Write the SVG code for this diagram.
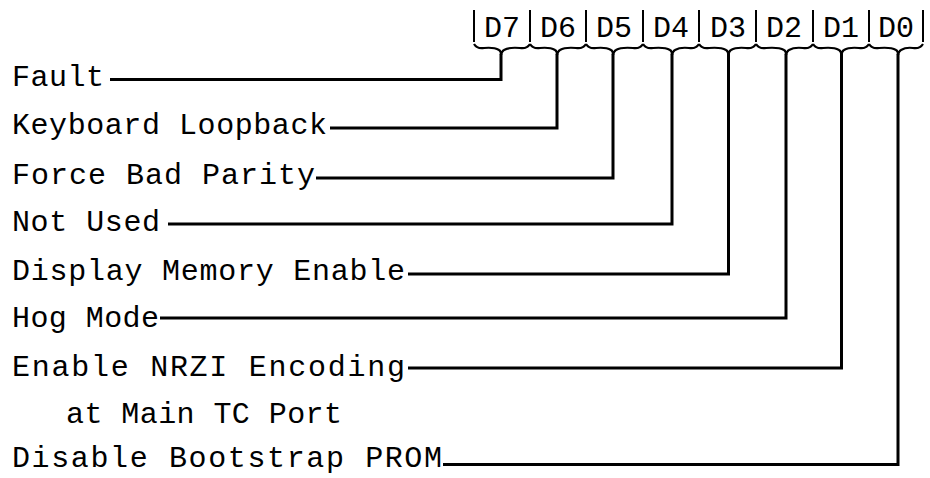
<svg xmlns="http://www.w3.org/2000/svg" width="930" height="478" viewBox="0 0 930 478">
  <style>
    .t { font-family: "Liberation Mono", "DejaVu Sans Mono", monospace; font-size: 30px; fill: #000; }
    .h { text-anchor: middle; }
    .sep { stroke: #000; stroke-width: 2; fill: none; }
    .brace { stroke: #000; stroke-width: 2.2; fill: none; stroke-linejoin: round; }
    .wire { stroke: #000; stroke-width: 3; fill: none; stroke-linejoin: miter; }
  </style>
  <rect width="930" height="478" fill="#fff"/>

  <g id="header">
    <g id="separators">
      <line class="sep" x1="474" y1="10" x2="474" y2="42"/>
      <line class="sep" x1="530" y1="10" x2="530" y2="42"/>
      <line class="sep" x1="586" y1="10" x2="586" y2="42"/>
      <line class="sep" x1="643" y1="10" x2="643" y2="42"/>
      <line class="sep" x1="699" y1="10" x2="699" y2="42"/>
      <line class="sep" x1="756" y1="10" x2="756" y2="42"/>
      <line class="sep" x1="813" y1="10" x2="813" y2="42"/>
      <line class="sep" x1="869" y1="10" x2="869" y2="42"/>
      <line class="sep" x1="923" y1="10" x2="923" y2="42"/>
    </g>
    <g id="bit-D7">
      <text class="t h" x="502" y="37">D7</text>
      <path class="brace" d="M474,44 Q477,49 484,48 Q494,47 499,50 Q501,51 501,55 Q502,51 504,50 Q509,47 520,48 Q527,49 530,44"/>
    </g>
    <g id="bit-D6">
      <text class="t h" x="558" y="37">D6</text>
      <path class="brace" d="M530,44 Q533,49 540,48 Q550,47 555,50 Q557,51 557,55 Q558,51 560,50 Q565,47 576,48 Q583,49 586,44"/>
    </g>
    <g id="bit-D5">
      <text class="t h" x="614" y="37">D5</text>
      <path class="brace" d="M586,44 Q589,49 596,48 Q606,47 611,50 Q613,51 613,55 Q614,51 616,50 Q621,47 633,48 Q640,49 643,44"/>
    </g>
    <g id="bit-D4">
      <text class="t h" x="671" y="37">D4</text>
      <path class="brace" d="M643,44 Q646,49 653,48 Q665,47 670,50 Q672,51 672,55 Q673,51 675,50 Q680,47 689,48 Q696,49 699,44"/>
    </g>
    <g id="bit-D3">
      <text class="t h" x="728" y="37">D3</text>
      <path class="brace" d="M699,44 Q702,49 709,48 Q721,47 726,50 Q728,51 728.5,55 Q729,51 731,50 Q736,47 746,48 Q753,49 756,44"/>
    </g>
    <g id="bit-D2">
      <text class="t h" x="784" y="37">D2</text>
      <path class="brace" d="M756,44 Q759,49 766,48 Q779,47 784,50 Q786,51 786,55 Q787,51 789,50 Q794,47 803,48 Q810,49 813,44"/>
    </g>
    <g id="bit-D1">
      <text class="t h" x="841" y="37">D1</text>
      <path class="brace" d="M813,44 Q816,49 823,48 Q834,47 839,50 Q841,51 841.5,55 Q842,51 844,50 Q849,47 859,48 Q866,49 869,44"/>
    </g>
    <g id="bit-D0">
      <text class="t h" x="896" y="37">D0</text>
      <path class="brace" d="M869,44 Q872,49 879,48 Q891,47 896,50 Q898,51 898,55 Q899,51 901,50 Q906,47 913,48 Q920,49 923,44"/>
    </g>
  </g>

  <g id="label-fault"><text class="t" x="12" y="86" textLength="92" lengthAdjust="spacing">Fault</text></g>
  <g id="label-keyboard-loopback"><text class="t" x="12" y="134" textLength="315" lengthAdjust="spacing">Keyboard Loopback</text></g>
  <g id="label-force-bad-parity"><text class="t" x="12" y="184" textLength="303" lengthAdjust="spacing">Force Bad Parity</text></g>
  <g id="label-not-used"><text class="t" x="12" y="231" textLength="148" lengthAdjust="spacing">Not Used</text></g>
  <g id="label-display-memory-enable"><text class="t" x="12" y="280" textLength="393" lengthAdjust="spacing">Display Memory Enable</text></g>
  <g id="label-hog-mode"><text class="t" x="12" y="327" textLength="147" lengthAdjust="spacing">Hog Mode</text></g>
  <g id="label-enable-nrzi">
    <text class="t" x="12" y="376" textLength="393" lengthAdjust="spacing">Enable NRZI Encoding</text>
    <text class="t" x="66" y="423" textLength="276" lengthAdjust="spacing">at Main TC Port</text>
  </g>
  <g id="label-disable-bootstrap-prom"><text class="t" x="12" y="467" textLength="430" lengthAdjust="spacing">Disable Bootstrap PROM</text></g>

  <g id="connectors">
    <path class="wire" d="M110,79.5 H501 V54"/>
    <path class="wire" d="M330,128 H557 V54"/>
    <path class="wire" d="M316,178 H613 V54"/>
    <path class="wire" d="M168,224 H672 V54"/>
    <path class="wire" d="M408,274 H728.5 V54"/>
    <path class="wire" d="M160,318 H786 V54"/>
    <path class="wire" d="M408,368 H841.5 V54"/>
    <path class="wire" d="M443,464.5 H898 V54"/>
  </g>
</svg>
